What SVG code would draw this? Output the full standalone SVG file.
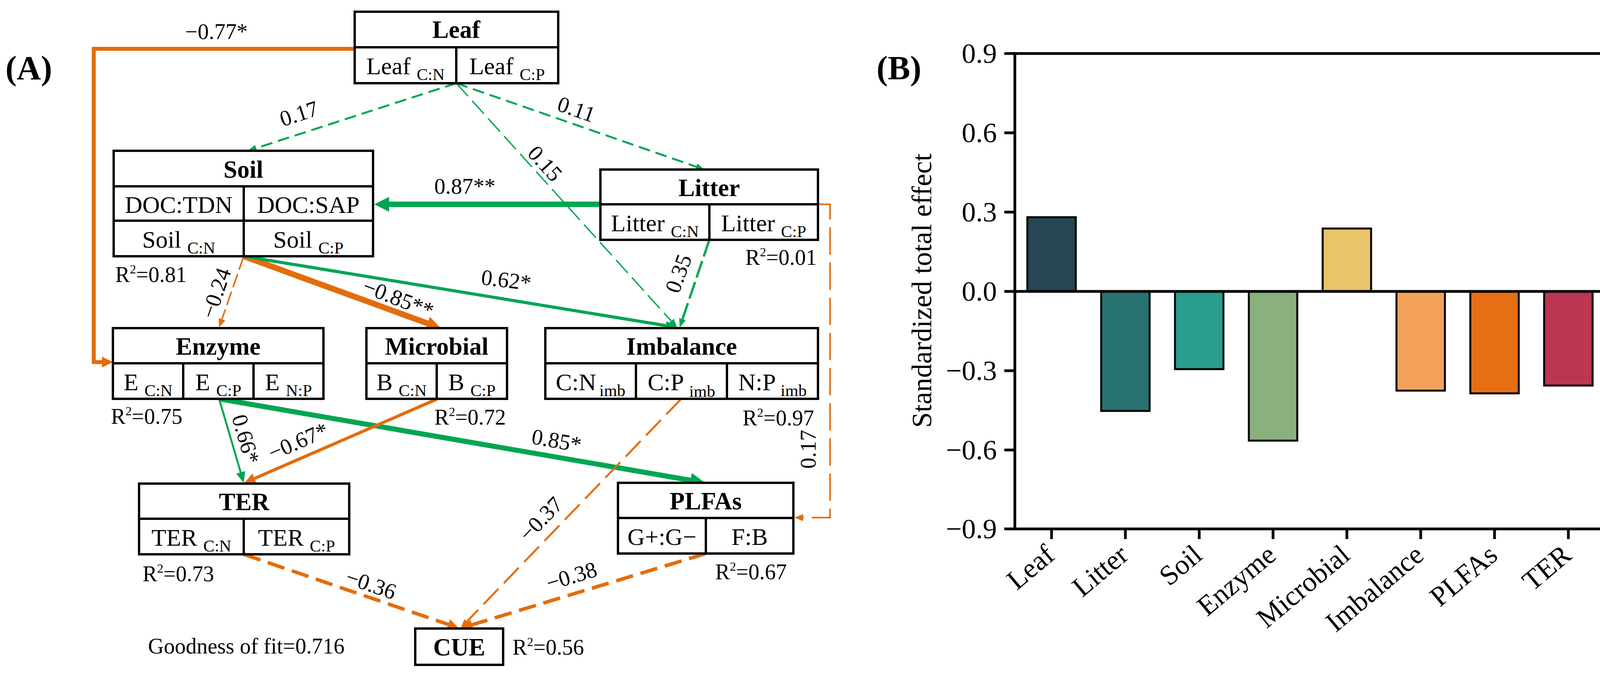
<svg xmlns="http://www.w3.org/2000/svg" width="4142" height="1728" viewBox="0 0 4142 1728">
<style>
text{font-family:"Liberation Serif","Times New Roman",serif;fill:#000}
.box{fill:#fff;stroke:#000;stroke-width:6}
.ln{fill:none;stroke:#000;stroke-width:6}
.title{font-size:63px;font-weight:bold;text-anchor:middle}
.t{font-size:62px;text-anchor:middle}
.sub{font-size:43px}
.lab{font-size:57px;text-anchor:middle}
.r2{font-size:56px}
.sup{font-size:32px}
.g{fill:none;stroke:#00A651}
.o{fill:none;stroke:#E46C0A}
.ax{fill:none;stroke:#000;stroke-width:7}
.tick{font-size:72px;text-anchor:end}
.xl{font-size:72px;text-anchor:end}
.bar{stroke:#000;stroke-width:5}
</style>
<defs>
<marker id="gs" markerUnits="userSpaceOnUse" viewBox="0 -12 24 24" refX="0" refY="0" markerWidth="24" markerHeight="24" orient="auto"><path d="M0,-9 L22,0 L0,9 z" fill="#00A651"/></marker>
<marker id="os" markerUnits="userSpaceOnUse" viewBox="0 -12 24 24" refX="0" refY="0" markerWidth="24" markerHeight="24" orient="auto"><path d="M0,-9 L22,0 L0,9 z" fill="#E46C0A"/></marker>
<marker id="gm" markerUnits="userSpaceOnUse" viewBox="0 -14 30 28" refX="0" refY="0" markerWidth="30" markerHeight="28" orient="auto"><path d="M0,-12 L28,0 L0,12 z" fill="#00A651"/></marker>
<marker id="om" markerUnits="userSpaceOnUse" viewBox="0 -15 30 30" refX="0" refY="0" markerWidth="30" markerHeight="30" orient="auto"><path d="M0,-14 L28,0 L0,14 z" fill="#E46C0A"/></marker>
<marker id="gb" markerUnits="userSpaceOnUse" viewBox="0 -20 40 40" refX="0" refY="0" markerWidth="40" markerHeight="40" orient="auto"><path d="M0,-19 L38,0 L0,19 z" fill="#00A651"/></marker>
<marker id="ob" markerUnits="userSpaceOnUse" viewBox="0 -20 40 40" refX="0" refY="0" markerWidth="40" markerHeight="40" orient="auto"><path d="M0,-18 L36,0 L0,18 z" fill="#E46C0A"/></marker>
</defs>
<rect x="0" y="0" width="4142" height="1728" fill="#fff"/>

<text x="14" y="203" font-size="86" font-weight="bold">(A)</text>

<g id="connectors">
<path class="o" stroke-width="10" d="M908,125 H240 V927 H261" marker-end="url(#om)"/>
<path class="g" stroke-width="5" stroke-dasharray="30 15" d="M1168,213 L655.9,379.2" marker-end="url(#gs)"/>
<path class="g" stroke-width="5" stroke-dasharray="30 15" d="M1168,213 L1782.2,426.8" marker-end="url(#gs)"/>
<path class="g" stroke-width="3.5" stroke-dasharray="45 16" d="M1168,213 L1718.2,821.7" marker-end="url(#gs)"/>
<path class="g" stroke-width="14" d="M1537,523 L996,523" marker-end="url(#gb)"/>
<path class="g" stroke-width="6" stroke-dasharray="45 12" d="M1816,614 L1747.1,817.2" marker-end="url(#gs)"/>
<path class="o" stroke-width="4" stroke-dasharray="70 20" d="M2094,523 H2125 V1325 H2056" marker-end="url(#os)"/>
<path class="o" stroke-width="4" stroke-dasharray="36 12" d="M624,656 L568.2,817.2" marker-end="url(#os)"/>
<path class="o" stroke-width="15" d="M624,656 L1094.2,827.7" marker-end="url(#ob)"/>
<path class="g" stroke-width="8" d="M624,656 L1704.4,833.5" marker-end="url(#gm)"/>
<path class="g" stroke-width="5" d="M561,1021 L616.1,1209.1" marker-end="url(#gm)"/>
<path class="g" stroke-width="13" d="M561,1021 L1767.6,1229.5" marker-end="url(#gb)"/>
<path class="o" stroke-width="8" d="M1118,1022 L651.7,1224.8" marker-end="url(#om)"/>
<path class="o" stroke-width="5" stroke-dasharray="55 20" d="M1744,1021 L1195.3,1591.1" marker-end="url(#os)"/>
<path class="o" stroke-width="9" stroke-dasharray="45 20" d="M624,1419 L1147.4,1598.6" marker-end="url(#om)"/>
<path class="o" stroke-width="9" stroke-dasharray="45 20" d="M1807,1417 L1208.9,1599.4" marker-end="url(#om)"/>
</g>

<g id="edge-labels">
<text class="lab" x="554" y="100">−0.77*</text>
<text class="lab" transform="translate(765,290) rotate(-18)" y="20">0.17</text>
<text class="lab" transform="translate(1476,279) rotate(19)" y="20">0.11</text>
<text class="lab" transform="translate(1396,418) rotate(48)" y="20">0.15</text>
<text class="lab" x="1190" y="496">0.87**</text>
<text class="lab" transform="translate(552,750) rotate(-71)" y="20">−0.24</text>
<text class="lab" transform="translate(1020,763) rotate(21)" y="20">−0.85**</text>
<text class="lab" transform="translate(1296,716) rotate(7)" y="20">0.62*</text>
<text class="lab" transform="translate(1736,700) rotate(-70)" y="20">0.35</text>
<text class="lab" transform="translate(630,1124) rotate(74)" y="20">0.66*</text>
<text class="lab" transform="translate(763,1129) rotate(-23.5)" y="20">−0.67*</text>
<text class="lab" transform="translate(1425,1127) rotate(10)" y="20">0.85*</text>
<text class="lab" transform="translate(2068,1150) rotate(-90)" y="20">0.17</text>
<text class="lab" transform="translate(1384,1328) rotate(-46)" y="20">−0.37</text>
<text class="lab" transform="translate(950,1495) rotate(19)" y="20">−0.36</text>
<text class="lab" transform="translate(1463,1474) rotate(-17)" y="20">−0.38</text>
</g>

<g id="leaf">
<rect class="box" x="908" y="30" width="521" height="183"/>
<path class="ln" d="M908,121 H1429 M1168,121 V213"/>
<text class="title" x="1168" y="97">Leaf</text>
<text class="t" x="1038" y="190">Leaf <tspan class="sub" dy="15">C:N</tspan></text>
<text class="t" x="1298" y="190">Leaf <tspan class="sub" dy="15">C:P</tspan></text>
</g>

<g id="soil">
<rect class="box" x="291" y="386" width="664" height="270"/>
<path class="ln" d="M291,477 H955 M291,565 H955 M624,477 V656"/>
<text class="title" x="623" y="455">Soil</text>
<text class="t" x="457.5" y="545">DOC:TDN</text>
<text class="t" x="789.5" y="545">DOC:SAP</text>
<text class="t" x="457.5" y="634">Soil <tspan class="sub" dy="15">C:N</tspan></text>
<text class="t" x="789.5" y="634">Soil <tspan class="sub" dy="15">C:P</tspan></text>
<text class="r2" x="295" y="722">R<tspan class="sup" dy="-22">2</tspan><tspan dy="22">=0.81</tspan></text>
</g>

<g id="litter">
<rect class="box" x="1537" y="434" width="557" height="180"/>
<path class="ln" d="M1537,523 H2094 M1816,523 V614"/>
<text class="title" x="1815.5" y="502">Litter</text>
<text class="t" x="1676.5" y="592">Litter <tspan class="sub" dy="15">C:N</tspan></text>
<text class="t" x="1955" y="592">Litter <tspan class="sub" dy="15">C:P</tspan></text>
<text class="r2" x="1908" y="678">R<tspan class="sup" dy="-22">2</tspan><tspan dy="22">=0.01</tspan></text>
</g>

<g id="enzyme">
<rect class="box" x="289" y="840" width="539" height="181"/>
<path class="ln" d="M289,930 H828 M469,930 V1021 M649,930 V1021"/>
<text class="title" x="558.5" y="908">Enzyme</text>
<text class="t" x="379" y="999">E <tspan class="sub" dy="15">C:N</tspan></text>
<text class="t" x="559" y="999">E <tspan class="sub" dy="15">C:P</tspan></text>
<text class="t" x="738.5" y="999">E <tspan class="sub" dy="15">N:P</tspan></text>
<text class="r2" x="284" y="1085">R<tspan class="sup" dy="-22">2</tspan><tspan dy="22">=0.75</tspan></text>
</g>

<g id="microbial">
<rect class="box" x="938" y="840" width="360" height="181"/>
<path class="ln" d="M938,930 H1298 M1118,930 V1021"/>
<text class="title" x="1118" y="908">Microbial</text>
<text class="t" x="1028" y="999">B <tspan class="sub" dy="15">C:N</tspan></text>
<text class="t" x="1208" y="999">B <tspan class="sub" dy="15">C:P</tspan></text>
<text class="r2" x="1112" y="1087">R<tspan class="sup" dy="-22">2</tspan><tspan dy="22">=0.72</tspan></text>
</g>

<g id="imbalance">
<rect class="box" x="1396" y="840" width="698" height="181"/>
<path class="ln" d="M1396,930 H2094 M1628,930 V1021 M1861,930 V1021"/>
<text class="title" x="1745" y="908">Imbalance</text>
<text class="t" x="1512" y="999">C:N<tspan class="sub" dx="8" dy="15">imb</tspan></text>
<text class="t" x="1744.5" y="999">C:P <tspan class="sub" dy="17">imb</tspan></text>
<text class="t" x="1977.5" y="999">N:P<tspan class="sub" dx="12" dy="15">imb</tspan></text>
<text class="r2" x="1901" y="1089">R<tspan class="sup" dy="-22">2</tspan><tspan dy="22">=0.97</tspan></text>
</g>

<g id="ter">
<rect class="box" x="356" y="1238" width="538" height="181"/>
<path class="ln" d="M356,1328 H894 M624,1328 V1419"/>
<text class="title" x="625" y="1306">TER</text>
<text class="t" x="490" y="1397">TER <tspan class="sub" dy="15">C:N</tspan></text>
<text class="t" x="759" y="1397">TER <tspan class="sub" dy="15">C:P</tspan></text>
<text class="r2" x="365" y="1488">R<tspan class="sup" dy="-22">2</tspan><tspan dy="22">=0.73</tspan></text>
</g>

<g id="plfas">
<rect class="box" x="1582" y="1236" width="449" height="181"/>
<path class="ln" d="M1582,1326 H2031 M1807,1326 V1417"/>
<text class="title" x="1806.5" y="1304">PLFAs</text>
<text class="t" x="1694.5" y="1395">G+:G−</text>
<text class="t" x="1919" y="1395">F:B</text>
<text class="r2" x="1831" y="1483">R<tspan class="sup" dy="-22">2</tspan><tspan dy="22">=0.67</tspan></text>
</g>

<g id="cue">
<rect class="box" x="1063" y="1609" width="225" height="93"/>
<text class="title" x="1175.5" y="1678">CUE</text>
<text class="r2" x="1312" y="1676">R<tspan class="sup" dy="-22">2</tspan><tspan dy="22">=0.56</tspan></text>
</g>

<text class="r2" x="379" y="1673">Goodness of fit=0.716</text>

<g id="chart-b">
<text x="2244" y="203" font-size="86" font-weight="bold">(B)</text>
<g id="bars">
<rect class="bar" x="2630" y="556" width="124" height="190" fill="#264653"/>
<rect class="bar" x="2819" y="746" width="124" height="306" fill="#287271"/>
<rect class="bar" x="3008" y="746" width="124" height="199" fill="#2A9D8F"/>
<rect class="bar" x="3197" y="746" width="124" height="382" fill="#8AB17D"/>
<rect class="bar" x="3386" y="585" width="124" height="161" fill="#E9C46A"/>
<rect class="bar" x="3575" y="746" width="124" height="254" fill="#F4A259"/>
<rect class="bar" x="3764" y="746" width="124" height="261" fill="#E76F13"/>
<rect class="bar" x="3953" y="746" width="124" height="241" fill="#BD3651"/>
</g>
<g id="axes">
<rect class="ax" x="2598" y="137" width="1513" height="1217"/>
<path class="ax" d="M2598,746 H4111"/>
<path class="ax" d="M2571,137 H2598 M2571,340 H2598 M2571,543 H2598 M2571,746 H2598 M2571,949 H2598 M2571,1152 H2598 M2571,1354 H2598"/>
<path class="ax" d="M2692,1354 V1380 M2881,1354 V1380 M3070,1354 V1380 M3259,1354 V1380 M3448,1354 V1380 M3637,1354 V1380 M3826,1354 V1380 M4015,1354 V1380"/>
</g>
<text class="tick" x="2552" y="161">0.9</text>
<text class="tick" x="2552" y="364">0.6</text>
<text class="tick" x="2552" y="567">0.3</text>
<text class="tick" x="2552" y="770">0.0</text>
<text class="tick" x="2552" y="973">−0.3</text>
<text class="tick" x="2552" y="1176">−0.6</text>
<text class="tick" x="2552" y="1378">−0.9</text>
<text font-size="72" text-anchor="middle" transform="translate(2384,744) rotate(-90)">Standardized total effect</text>
<text class="xl" transform="translate(2704,1428) rotate(-40)">Leaf</text>
<text class="xl" transform="translate(2893,1428) rotate(-40)">Litter</text>
<text class="xl" transform="translate(3082,1428) rotate(-40)">Soil</text>
<text class="xl" transform="translate(3271,1428) rotate(-40)">Enzyme</text>
<text class="xl" transform="translate(3460,1428) rotate(-40)">Microbial</text>
<text class="xl" transform="translate(3649,1428) rotate(-40)">Imbalance</text>
<text class="xl" transform="translate(3838,1428) rotate(-40)">PLFAs</text>
<text class="xl" transform="translate(4027,1428) rotate(-40)">TER</text>
</g>
</svg>
